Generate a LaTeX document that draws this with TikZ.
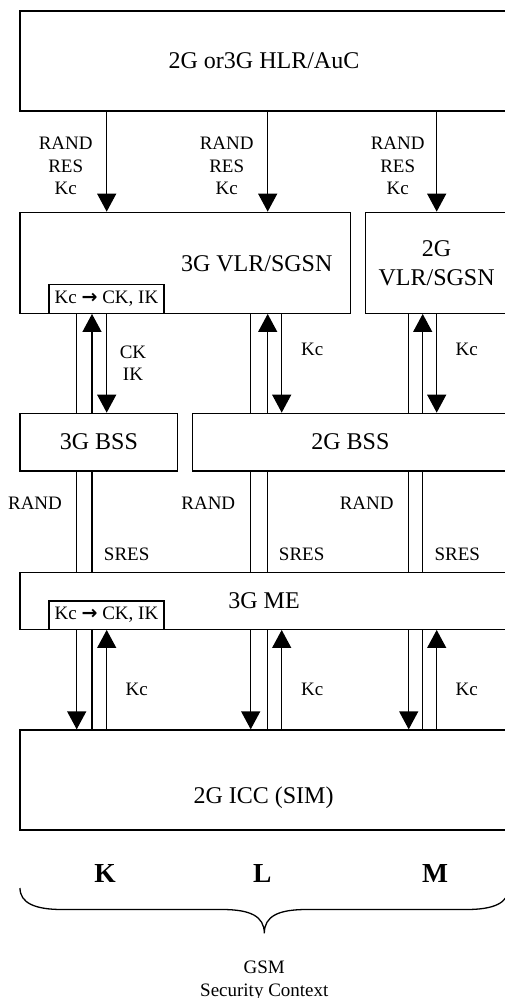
\documentclass[tikz,border=0pt]{standalone}
\usepackage{fontspec}
\setmainfont{Liberation Serif}
\newfontfamily\arrfont{DejaVu Sans}
\usetikzlibrary{arrows.meta}
\begin{document}
\begin{tikzpicture}[x=1pt,y=-1pt,
  box/.style={draw,line width=1.3pt,inner sep=0pt,font=\fontsize{24}{29}\selectfont,align=center},
  kbox/.style={draw,line width=1.3pt,inner sep=0pt,minimum width=115pt,font=\fontsize{19}{22.5}\selectfont},
  big/.style={inner sep=0pt,font=\fontsize{24}{29}\selectfont,align=center},
  lbl/.style={inner sep=0pt,font=\fontsize{19}{22.5}\selectfont,align=center},
  bold/.style={inner sep=0pt,font=\fontsize{27.5}{30}\selectfont\bfseries},
  conn/.style={line width=1.3pt},
  arr/.style={line width=1.3pt,-{Triangle[width=19pt,length=18pt]}}]
\useasboundingbox (0,0) rectangle (505,998);
\clip (0,0) rectangle (505,998);
% column positions
\coordinate (Ka) at (76.7,0);  \coordinate (Kb) at (92,0);    \coordinate (Kc) at (106.7,0);
\coordinate (La) at (250.7,0); \coordinate (Lb) at (267.7,0); \coordinate (Lc) at (281.7,0);
\coordinate (Ma) at (408.7,0); \coordinate (Mb) at (422.7,0); \coordinate (Mc) at (436.7,0);
% boxes
\node[box,minimum width=488pt,minimum height=100pt] (hlr) at (264,61) {2G or3G HLR/AuC};
\node[box,minimum width=330.7pt,minimum height=101pt] (vlr3) at (185.35,262.8) {};
\node[big] (vlr3t) at (256.7,264) {3G VLR/SGSN};
\node[box,minimum width=142.7pt,minimum height=101pt] (vlr2) at (436.65,262.8) {2G\\VLR/SGSN};
\node[kbox,minimum height=29pt] (kb1) at (106.5,298.8) {Kc {\arrfont\bfseries →} CK, IK};
\node[box,minimum width=157.7pt,minimum height=57.7pt] (bss3) at (98.85,442.15) {3G BSS};
\node[box,minimum width=315.3pt,minimum height=57.7pt] (bss2) at (350.35,442.15) {2G BSS};
\node[box,minimum width=488pt,minimum height=57pt] (me) at (264,600.8) {3G ME};
\node[kbox,minimum height=28.3pt] (kb2) at (106.5,615.15) {Kc {\arrfont\bfseries →} CK, IK};
\node[box,minimum width=488pt,minimum height=100pt] (icc) at (264,780) {};
\node[big] (icct) at (263.5,797.7) {2G ICC (SIM)};
% HLR -> VLR
\draw[arr] (hlr.south -| Kc) -- (vlr3.north -| Kc);
\draw[arr] (hlr.south -| Lb) -- (vlr3.north -| Lb);
\draw[arr] (hlr.south -| Mc) -- (vlr2.north -| Mc);
\node[lbl] (l1) at (65.7,166) {RAND\\RES\\Kc};
\node[lbl] (l2) at (226.7,166) {RAND\\RES\\Kc};
\node[lbl] (l3) at (397.7,166) {RAND\\RES\\Kc};
% VLR <-> BSS
\draw[conn] (kb1.south -| Ka) -- (bss3.north -| Ka);
\draw[arr] (bss3.north -| Kb) -- (kb1.south -| Kb);
\draw[arr] (kb1.south -| Kc) -- (bss3.north -| Kc);
\draw[conn] (vlr3.south -| La) -- (bss2.north -| La);
\draw[arr] (bss2.north -| Lb) -- (vlr3.south -| Lb);
\draw[arr] (vlr3.south -| Lc) -- (bss2.north -| Lc);
\draw[conn] (vlr2.south -| Ma) -- (bss2.north -| Ma);
\draw[arr] (bss2.north -| Mb) -- (vlr2.south -| Mb);
\draw[arr] (vlr2.south -| Mc) -- (bss2.north -| Mc);
\node[lbl] (ckik) at (133,363) {CK\\IK};
\node[lbl] (kc1) at (312.3,349.3) {Kc};
\node[lbl] (kc2) at (466.7,349.3) {Kc};
% BSS - ME
\draw[conn] (bss3.south -| Ka) -- (me.north -| Ka);
\draw[conn] (bss3.south -| Kb) -- (me.north -| Kb);
\draw[conn] (bss2.south -| La) -- (me.north -| La);
\draw[conn] (bss2.south -| Lb) -- (me.north -| Lb);
\draw[conn] (bss2.south -| Ma) -- (me.north -| Ma);
\draw[conn] (bss2.south -| Mb) -- (me.north -| Mb);
\node[lbl] (r1) at (35,503.3) {RAND};
\node[lbl] (r2) at (208.3,503.3) {RAND};
\node[lbl] (r3) at (366.7,503.3) {RAND};
\node[lbl] (s1) at (126.7,554) {SRES};
\node[lbl] (s2) at (301.7,554) {SRES};
\node[lbl] (s3) at (457.3,554) {SRES};
% ME <-> ICC
\draw[arr] (kb2.south -| Ka) -- (icc.north -| Ka);
\draw[conn] (kb2.south -| Kb) -- (icc.north -| Kb);
\draw[arr] (icc.north -| Kc) -- (kb2.south -| Kc);
\draw[arr] (me.south -| La) -- (icc.north -| La);
\draw[conn] (me.south -| Lb) -- (icc.north -| Lb);
\draw[arr] (icc.north -| Lc) -- (me.south -| Lc);
\draw[arr] (me.south -| Ma) -- (icc.north -| Ma);
\draw[conn] (me.south -| Mb) -- (icc.north -| Mb);
\draw[arr] (icc.north -| Mc) -- (me.south -| Mc);
\node[lbl] (kc3) at (136.7,689.3) {Kc};
\node[lbl] (kc4) at (312.3,689.3) {Kc};
\node[lbl] (kc5) at (466.7,689.3) {Kc};
% K L M
\node[bold] (K) at (105,873) {K};
\node[bold] (L) at (262.3,873) {L};
\node[bold] (M) at (435,873) {M};
% brace
\coordinate (bl) at (20,888);
\coordinate (bt) at (264.3,933.3);
\coordinate (br) at (508.6,888);
\draw[line width=1.3pt] (bl) .. controls (20,903) and (35,909.5) .. (62,909.5) -- (222,909.5)
  .. controls (250,909.5) and (264.3,916) .. (bt)
  .. controls (264.3,916) and (278.6,909.5) .. (306.6,909.5) -- (466.6,909.5)
  .. controls (493.6,909.5) and (508.6,903) .. (br);
\node[lbl] (gsm) at (264.3,980.5) {GSM\\Security Context};
\end{tikzpicture}
\end{document}
